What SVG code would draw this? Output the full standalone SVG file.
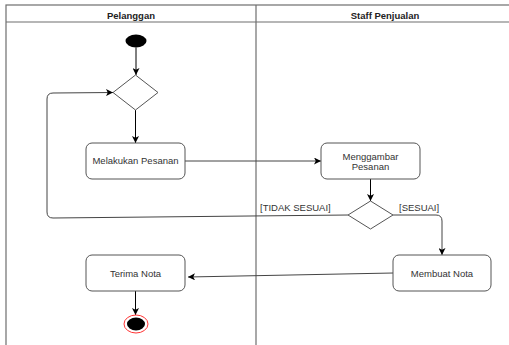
<svg xmlns="http://www.w3.org/2000/svg" width="509" height="345" viewBox="0 0 509 345">
  <defs>
    <marker id="arrow" viewBox="0 0 10 10" refX="10" refY="5" markerWidth="7" markerHeight="7" markerUnits="userSpaceOnUse" orient="auto">
      <path d="M0,0 L10,5 L0,10 L2.5,5 Z" fill="#000"/>
    </marker>
    <style>
      .lane { fill: none; stroke: #6e6e6e; stroke-width: 1.2; }
      .head { font-family: "Liberation Sans", Arial, sans-serif; font-size: 9.5px; font-weight: bold; fill: #222; text-anchor: middle; }
      .box { fill: #fff; stroke: #555; stroke-width: 1; }
      .txt { font-family: "Liberation Sans", Arial, sans-serif; font-size: 9.5px; fill: #333; text-anchor: middle; }
      .lbl { font-family: "Liberation Sans", Arial, sans-serif; font-size: 9.5px; fill: #333; }
      .edge { fill: none; stroke: #000; stroke-width: 1; }
      .flow { fill: none; stroke: #444; stroke-width: 1; }
      .diamond { fill: #fff; stroke: #555; stroke-width: 1; }
    </style>
  </defs>
  <rect width="509" height="345" fill="#fff"/>

  <!-- swimlane frame -->
  <g id="swimlanes">
    <rect class="lane" x="6" y="5" width="520" height="360" stroke="#444"/>
    <line class="lane" x1="6" y1="22" x2="509" y2="22"/>
    <line class="lane" x1="256" y1="5" x2="256" y2="345" stroke-width="1.6"/>
    <text class="head" x="131" y="18.5">Pelanggan</text>
    <text class="head" x="385" y="18.5">Staff Penjualan</text>
  </g>

  <!-- connectors -->
  <g id="connectors">
    <line class="edge" x1="136" y1="47.5" x2="136" y2="75" marker-end="url(#arrow)"/>
    <line class="edge" x1="135.5" y1="110" x2="135.5" y2="143" marker-end="url(#arrow)"/>
    <line class="flow" x1="185" y1="161" x2="321" y2="161" marker-end="url(#arrow)"/>
    <line class="edge" x1="370.5" y1="179" x2="370.5" y2="201" marker-end="url(#arrow)"/>
    <path class="flow" d="M348,215 L53,218 Q47,218 47,212 L47,99 Q47,93 53,93 L113,92.5" marker-end="url(#arrow)"/>
    <path class="flow" d="M393,215 L436,215 Q442,215 442,221 L442,255" marker-end="url(#arrow)"/>
    <line class="flow" x1="393" y1="273" x2="188" y2="277" marker-end="url(#arrow)"/>
    <line class="edge" x1="135.5" y1="291" x2="135.5" y2="315" marker-end="url(#arrow)"/>
    <text class="lbl" x="260" y="210.5">[TIDAK SESUAI]</text>
    <text class="lbl" x="399" y="210.5">[SESUAI]</text>
  </g>

  <g id="start">
    <ellipse cx="136" cy="41" rx="10.5" ry="6.5" fill="#000"/>
  </g>

  <g id="decision-order">
    <polygon class="diamond" points="135.5,75 158,92.5 135.5,110 113,92.5"/>
  </g>

  <g id="melakukan-pesanan">
    <rect class="box" x="86" y="143" width="99" height="36" rx="6"/>
    <text class="txt" x="135.5" y="164">Melakukan Pesanan</text>
  </g>

  <g id="menggambar-pesanan">
    <rect class="box" x="321" y="143" width="99" height="36" rx="6"/>
    <text class="txt" x="370.5" y="160">Menggambar</text>
    <text class="txt" x="370.5" y="169.5">Pesanan</text>
  </g>

  <g id="decision-check">
    <polygon class="diamond" points="370.5,201 393,215 370.5,229 348,215"/>
  </g>

  <g id="membuat-nota">
    <rect class="box" x="393" y="255" width="98" height="36" rx="6"/>
    <text class="txt" x="442" y="276.5">Membuat Nota</text>
  </g>

  <g id="terima-nota">
    <rect class="box" x="86" y="255" width="99" height="36" rx="6"/>
    <text class="txt" x="135.5" y="276.5">Terima Nota</text>
  </g>

  <g id="end">
    <ellipse cx="136" cy="324" rx="12" ry="9" fill="#fff" stroke="#f33" stroke-width="1"/>
    <ellipse cx="136" cy="324" rx="9" ry="6.5" fill="#000"/>
  </g>
</svg>
